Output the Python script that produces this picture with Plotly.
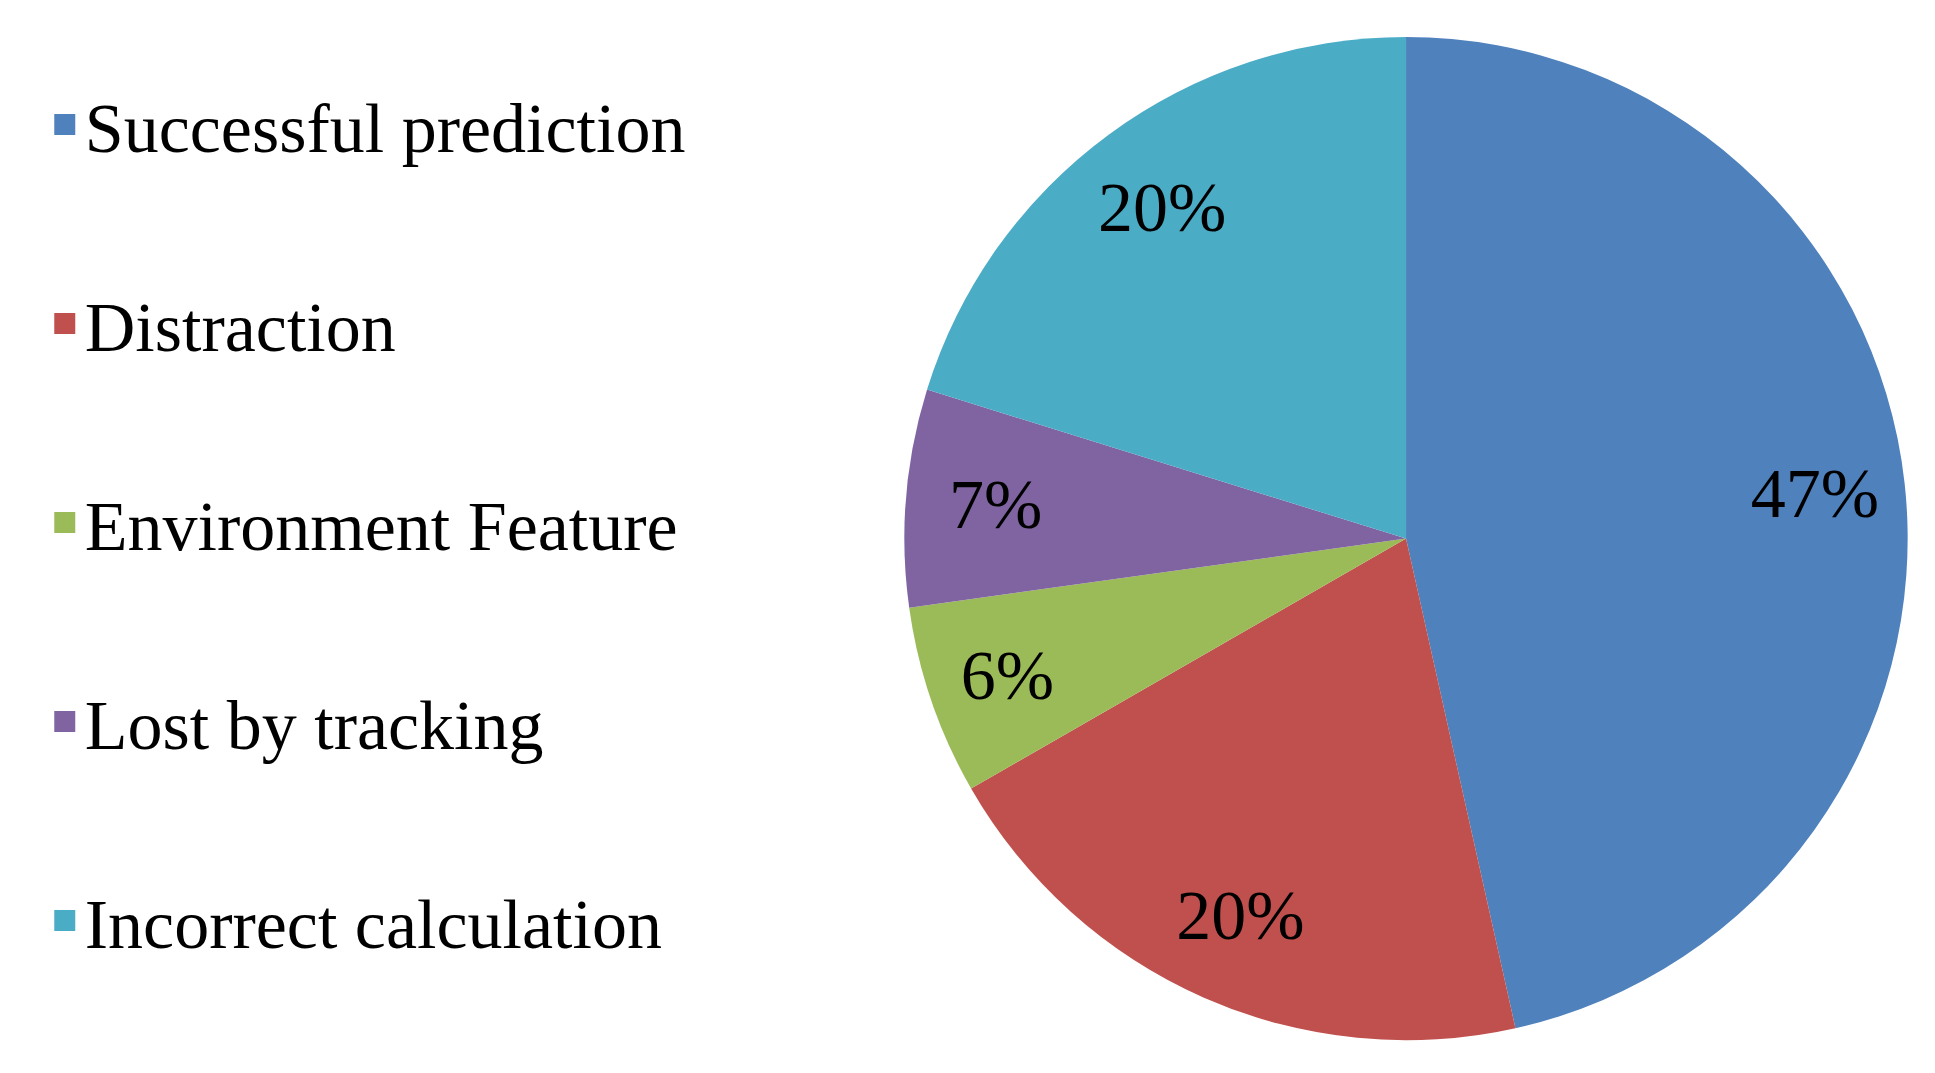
import plotly.graph_objects as go

# Slice data (clockwise from 12 o'clock)
categories = ['Successful prediction', 'Distraction', 'Environment Feature',
              'Lost by tracking', 'Incorrect calculation']
shares = [46.5, 20.2, 6.1, 7.0, 20.2]
pct_labels = ['47%', '20%', '6%', '7%', '20%']
colors = ['#4F81BD', '#C0504D', '#9BBB59', '#8064A2', '#4BACC6']

FONT = 'Liberation Serif'
pie_domain = dict(x=[0.463, 0.982], y=[0.038, 0.973])

fig = go.Figure()

# the coloured pie itself
fig.add_trace(go.Pie(
    labels=categories,
    values=shares,
    textinfo='none',
    marker=dict(colors=colors, line=dict(width=0)),
    sort=False,
    direction='clockwise',
    rotation=0,
    domain=pie_domain,
    showlegend=False,
    hoverinfo='label+percent',
))

# transparent ring on top: only used so the % labels sit out towards the rim
fig.add_trace(go.Pie(
    labels=categories,
    values=shares,
    text=pct_labels,
    textinfo='text',
    textposition='inside',
    insidetextorientation='horizontal',
    textfont=dict(family=FONT, size=70, color='black'),
    marker=dict(colors=['rgba(0,0,0,0)'] * len(categories), line=dict(width=0)),
    hole=0.64,
    sort=False,
    direction='clockwise',
    rotation=0,
    domain=pie_domain,
    showlegend=False,
    hoverinfo='skip',
))

# legend entries, one group each so they can be spaced apart
for name, c in zip(categories, colors):
    fig.add_trace(go.Scatter(
        x=[None], y=[None], mode='markers', name=name, legendgroup=name,
        marker=dict(symbol='square', size=30, color=c, line=dict(width=5, color=c)),
    ))

fig.update_layout(
    width=1935, height=1073,
    margin=dict(l=0, r=0, t=0, b=0),
    paper_bgcolor='white', plot_bgcolor='white',
    xaxis=dict(visible=False), yaxis=dict(visible=False),
    legend=dict(
        x=0.019, y=0.94, xanchor='left', yanchor='top',
        font=dict(family=FONT, size=70, color='black'),
        tracegroupgap=105, itemsizing='trace',
        bgcolor='rgba(0,0,0,0)',
    ),
)

fig.write_html('out.html')
